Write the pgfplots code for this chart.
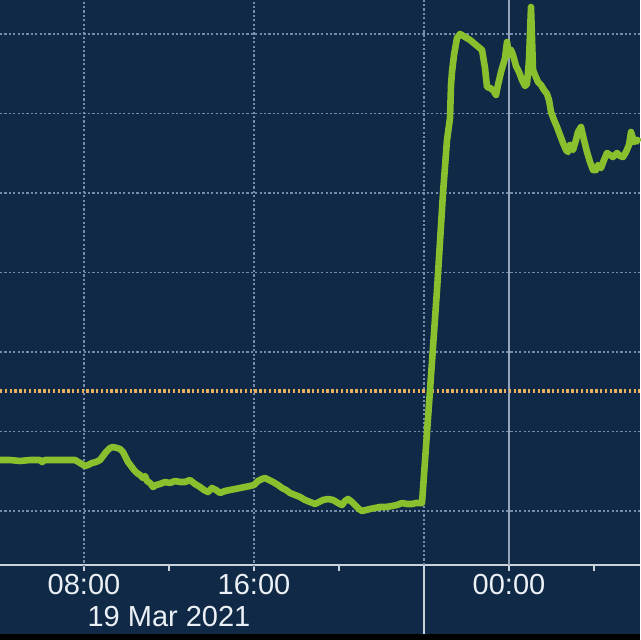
\documentclass[border=0pt]{standalone}
\usepackage{pgfplots}
\pgfplotsset{compat=1.18}
\usepackage{fontspec}
\setmainfont{Liberation Sans}
\definecolor{bg}{RGB}{16,41,70}
\definecolor{grn}{RGB}{137,192,45}
\definecolor{gridc}{RGB}{118,140,168}
\definecolor{solidg}{RGB}{150,165,185}
\definecolor{org}{RGB}{232,175,95}
\definecolor{txt}{RGB}{235,240,245}
\begin{document}
\begin{tikzpicture}
\fill[bg] (0,0) rectangle (320pt,320pt);
\fill[black] (0,0) rectangle (320pt,3pt);
\useasboundingbox (0,0) rectangle (320pt,320pt);
\begin{axis}[
 at={(0pt,37.5pt)}, anchor=south west,
 scale only axis, width=320pt, height=282.5pt,
 xmin=0, xmax=640, ymin=0, ymax=565,
 axis x line*=bottom, axis y line=none,
 x axis line style={draw=txt!85!bg, line width=0.8pt, -},
 xtick={84,169,254,339,424,509,594},
 xticklabels={08:00,,16:00,,,00:00,},
 tick align=outside, major tick length=3pt,
 xtick style={draw=txt!85!bg, line width=0.8pt},
 xticklabel style={text=txt, font=\fontsize{14.5}{16}\selectfont, yshift=2pt},
 ytick=\empty,
 clip=false,
 gridl/.style={gridc, dash pattern=on 1.1pt off 1.1pt, line width=0.7pt},
]
\addplot[gridl] coordinates {(0,54)(640,54)};
\addplot[gridl] coordinates {(0,133.5)(640,133.5)};
\addplot[gridl] coordinates {(0,213)(640,213)};
\addplot[gridl] coordinates {(0,292.5)(640,292.5)};
\addplot[gridl] coordinates {(0,372)(640,372)};
\addplot[gridl] coordinates {(0,451.5)(640,451.5)};
\addplot[gridl] coordinates {(0,531)(640,531)};
\addplot[gridl] coordinates {(84,-2)(84,565)};
\addplot[gridl] coordinates {(254,-2)(254,565)};
\addplot[gridl] coordinates {(424,0)(424,565)};
\addplot[solidg, line width=0.6pt] coordinates {(509,0)(509,565)};
\addplot[txt!85!bg, line width=0.8pt] coordinates {(424,0)(424,-69)};
\addplot[org, line width=1.8pt, dash pattern=on 1.2pt off 1.2pt] coordinates {(0,174)(640,174)};
\addplot[grn, line width=3.3pt, line join=round] table[x=px, y expr=565-\thisrow{py}] {
px py
0 460
10 460
20 461
30 460
40 460
42 462
45 460
60 460
75 460
80 463
85 466
88 465
92 463
96 462
100 460
103 456
106 452
110 448
113 447
117 448
120 449
123 452
126 458
128 462
131 466
134 470
137 473
140 475
143 478
145 476
147 481
150 483
153 487
156 485
160 484
165 482
170 483
175 481
180 482
185 482
190 480
195 484
200 487
204 490
208 492
212 488
216 490
220 493
225 491
230 490
235 489
240 488
245 487
250 486
254 485
258 481
262 479
265 478
269 480
273 482
278 485
282 488
286 490
290 493
295 495
300 497
305 500
310 502
315 504
319 502
323 500
328 499
333 500
338 503
342 505
345 501
348 499
352 502
355 505
359 509
362 511
366 510
370 509
375 508
380 507
386 507
392 506
397 505
402 503
407 504
412 504
416 503
422 503
430 390
437 290
443 193
447 140
450 118
451 85
452 72
454 55
457 38
460 34
470 40
482 50
485 68
487 87
490 88
493 90
496 95
498 85
501 72
503 65
505 58
507 42
509 55
511 50
513 55
516 66
519 72
522 80
525 86
527 84
529 60
531 7
533 70
535 75
538 82
541 85
544 90
547 94
549 100
551 112
554 120
557 127
560 135
563 143
566 150
568 152
570 145
573 150
576 140
578 132
581 127
584 140
587 152
590 162
593 170
596 170
598 165
601 168
604 160
607 153
610 155
613 157
617 153
620 156
623 157
626 152
629 145
631 132
634 142
637 140
640 142
};
\node[text=txt, font=\fontsize{14.5}{16}\selectfont] at (axis cs:169,-52) {19 Mar 2021};
\end{axis}
\end{tikzpicture}
\end{document}
